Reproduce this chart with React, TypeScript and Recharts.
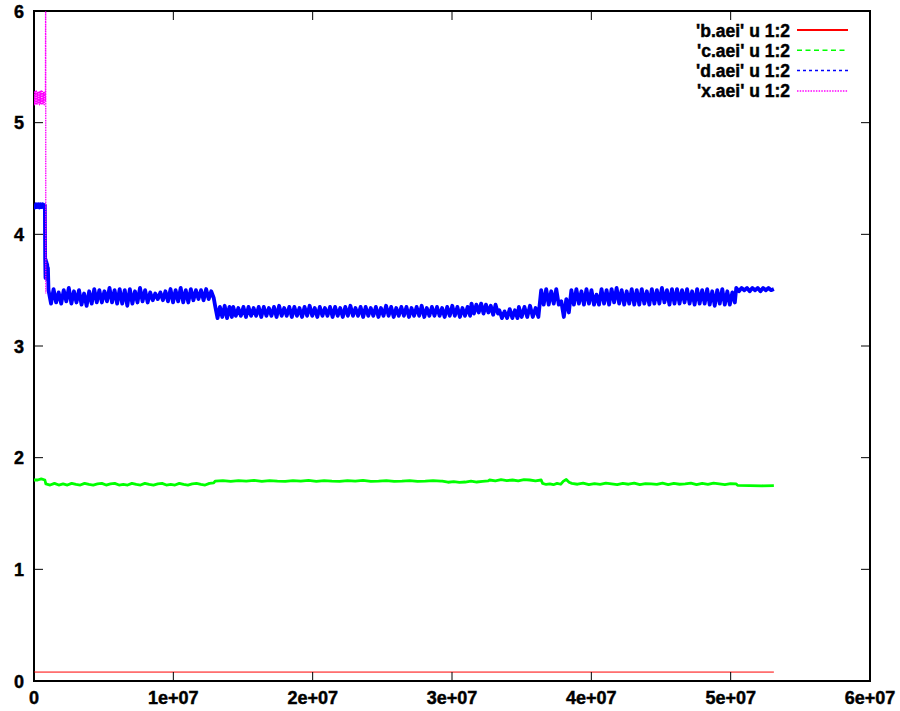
import { LineChart, Line, XAxis, YAxis, ReferenceArea, Legend } from "recharts";

// gnuplot-style plot of four .aei files (column 1 vs column 2)

type Seg = [number, number, number[]];

const X_TICKS = [0, 1e7, 2e7, 3e7, 4e7, 5e7, 6e7];
const X_TICK_LABELS = ["0", "1e+07", "2e+07", "3e+07", "4e+07", "5e+07", "6e+07"];
const Y_TICKS = [0, 1, 2, 3, 4, 5, 6];
const Y_TICK_LABELS = ["0", "1", "2", "3", "4", "5", "6"];

const SERIES_NAMES = ["'b.aei' u 1:2", "'c.aei' u 1:2", "'d.aei' u 1:2", "'x.aei' u 1:2"];
const SERIES_COLORS = ["#ff0000", "#00ff00", "#0000ff", "#ff00ff"];
const LEGEND_DASHES = ["", "5 3.5", "3 3", "1.5 1.2"];

// b.aei: flat near zero
const B_SEGS: Seg[] = [[0, 5.31e7, [0.08, 0.08]]];

// c.aei
const C_SEGS: Seg[] = [
  [0, 0.078e7, [1.8, 1.8, 1.81, 1.8]],
  [0.085e7, 1.29e7, [1.765, 1.755, 1.77, 1.755, 1.765, 1.755, 1.77, 1.76, 1.755, 1.77, 1.76, 1.755, 1.765, 1.77, 1.755, 1.765, 1.77, 1.755, 1.76, 1.755, 1.77, 1.76, 1.755, 1.77, 1.76, 1.755, 1.765, 1.77, 1.755, 1.76, 1.755, 1.77, 1.76, 1.755, 1.765, 1.77, 1.76, 1.755, 1.77, 1.775]],
  [1.3e7, 2.92e7, [1.79, 1.795, 1.788, 1.795, 1.79, 1.796, 1.788, 1.795, 1.79, 1.788, 1.795, 1.79, 1.796, 1.788, 1.795, 1.79, 1.788, 1.795, 1.79, 1.796, 1.788, 1.79, 1.795, 1.788, 1.79, 1.795, 1.788, 1.79, 1.795, 1.79]],
  [2.93e7, 3.26e7, [1.79, 1.78, 1.785, 1.778, 1.782, 1.79, 1.782, 1.788, 1.792]],
  [3.27e7, 3.64e7, [1.8, 1.792, 1.803, 1.795, 1.8, 1.792, 1.803, 1.8, 1.793, 1.8]],
  [3.65e7, 3.78e7, [1.77, 1.76, 1.765, 1.758, 1.77, 1.762]],
  [3.8e7, 3.84e7, [1.79, 1.805, 1.78]],
  [3.86e7, 5.04e7, [1.77, 1.762, 1.772, 1.758, 1.768, 1.76, 1.772, 1.765, 1.758, 1.77, 1.762, 1.772, 1.758, 1.768, 1.765, 1.76, 1.772, 1.758, 1.77, 1.762, 1.765, 1.772, 1.758, 1.77, 1.76, 1.772, 1.765, 1.758, 1.768, 1.765]],
  [5.05e7, 5.31e7, [1.752, 1.75, 1.748, 1.75]],
];

// d.aei: noisy band, sampled high/low
const D_SEGS: Seg[] = [
  [0, 0.078e7, [4.27, 4.24, 4.27, 4.245, 4.27, 4.24, 4.27, 4.245, 4.27, 4.24, 4.26]],
  [0.08e7, 0.1e7, [3.78, 3.61, 3.77, 3.62, 3.75, 3.6, 3.73, 3.61, 3.7]],
  [0.104e7, 1.29e7, [
    3.5, 3.38, 3.51, 3.39, 3.48, 3.38, 3.5, 3.4, 3.52, 3.38,
    3.49, 3.39, 3.5, 3.37, 3.47, 3.36, 3.49, 3.38, 3.51, 3.39,
    3.5, 3.39, 3.49, 3.4, 3.52, 3.39, 3.5, 3.38, 3.51, 3.38,
    3.5, 3.36, 3.51, 3.38, 3.49, 3.39, 3.52, 3.4, 3.5, 3.39,
    3.48, 3.41, 3.47, 3.42, 3.48, 3.41, 3.49, 3.4, 3.51, 3.39,
    3.5, 3.4, 3.52, 3.39, 3.5, 3.39, 3.51, 3.41, 3.5, 3.42,
    3.5, 3.41, 3.51, 3.42, 3.49, 3.43,
  ]],
  [1.3e7, 1.42e7, [3.36, 3.25, 3.35, 3.26, 3.36, 3.25, 3.35, 3.26]],
  [1.43e7, 3.13e7, [
    3.35, 3.27, 3.34, 3.27, 3.35, 3.26, 3.35, 3.27, 3.34, 3.27,
    3.35, 3.26, 3.35, 3.27, 3.34, 3.27, 3.35, 3.26, 3.36, 3.27,
    3.34, 3.27, 3.35, 3.26, 3.35, 3.27, 3.34, 3.26, 3.35, 3.27,
    3.36, 3.27, 3.34, 3.26, 3.35, 3.27, 3.34, 3.27, 3.35, 3.26,
    3.35, 3.27, 3.34, 3.26, 3.35, 3.27, 3.36, 3.27, 3.34, 3.27,
    3.35, 3.26, 3.35, 3.27, 3.34, 3.27, 3.35, 3.26, 3.34, 3.27,
    3.36, 3.27, 3.35, 3.26, 3.34, 3.27, 3.35, 3.27, 3.35, 3.26,
    3.34, 3.27, 3.35, 3.27, 3.36, 3.26, 3.34, 3.27, 3.35, 3.27,
    3.35, 3.27, 3.34, 3.26, 3.35, 3.27, 3.36, 3.27, 3.35, 3.26,
    3.34, 3.27, 3.35, 3.27,
  ]],
  [3.14e7, 3.33e7, [3.38, 3.29, 3.37, 3.3, 3.38, 3.29, 3.37, 3.3, 3.36, 3.28, 3.37, 3.29]],
  [3.34e7, 3.47e7, [3.32, 3.25, 3.31, 3.25, 3.33, 3.25, 3.32, 3.25]],
  [3.48e7, 3.62e7, [3.35, 3.26, 3.35, 3.26, 3.36, 3.26, 3.34, 3.26]],
  [3.64e7, 5.03e7, [
    3.5, 3.37, 3.51, 3.37, 3.49, 3.38, 3.51, 3.37, 3.4, 3.26,
    3.42, 3.3, 3.5, 3.37, 3.51, 3.38, 3.49, 3.37, 3.51, 3.38,
    3.5, 3.37, 3.46, 3.37, 3.51, 3.38, 3.5, 3.37, 3.51, 3.39,
    3.52, 3.38, 3.5, 3.37, 3.49, 3.38, 3.51, 3.37, 3.5, 3.37,
    3.51, 3.38, 3.49, 3.37, 3.51, 3.38, 3.5, 3.38, 3.52, 3.39,
    3.5, 3.37, 3.51, 3.38, 3.51, 3.38, 3.5, 3.39, 3.51, 3.38,
    3.49, 3.37, 3.51, 3.38, 3.5, 3.38, 3.51, 3.37, 3.49, 3.36,
    3.5, 3.38, 3.51, 3.37, 3.49, 3.37, 3.48, 3.39,
  ]],
  [5.04e7, 5.31e7, [3.52, 3.49, 3.52, 3.5, 3.52, 3.49, 3.52, 3.5, 3.52, 3.49, 3.52, 3.5, 3.52, 3.5, 3.51]],
];

// x.aei: short block at the start, then a spike off the top
const X_SEGS: Seg[] = [
  [0, 0.082e7, [5.28, 5.16, 5.28, 5.17, 5.29, 5.16, 5.27, 5.17, 5.28, 5.16, 5.28, 5.17, 5.29, 5.16, 5.28, 5.17, 5.27, 5.16, 5.28, 5.2]],
  [0.084e7, 0.0845e7, [6.6, 3.47]],
];

const toPoints = (segs: Seg[]) =>
  segs.flatMap(([x0, x1, ys]) =>
    ys.map((y, i) => ({ x: ys.length > 1 ? x0 + ((x1 - x0) * i) / (ys.length - 1) : x0, y }))
  );

const SERIES_DATA = [toPoints(B_SEGS), toPoints(C_SEGS), toPoints(D_SEGS), toPoints(X_SEGS)];
const SERIES_WIDTHS = [1, 2.8, 3.8, 1.3];
const SERIES_DASHES = ["", "", "", "1.6 0.8"];

const W = 900;
const H = 711;
const PLOT_TOP = 11;
const PLOT_BOTTOM = 681;
const PLOT_LEFT = 34;
const PLOT_RIGHT = 870;
const TICK = 9;
const FONT = "'Liberation Sans', Arial, Helvetica, sans-serif";

const textStyle = {
  fontFamily: FONT,
  fontWeight: 700,
  fontSize: 18,
  fill: "#000",
  stroke: "#000",
  strokeWidth: 0.45,
};

// eslint-disable-next-line @typescript-eslint/no-explicit-any
const XTick = (props: any) => {
  const { x, payload } = props;
  const label = X_TICK_LABELS[X_TICKS.indexOf(payload.value)];
  return (
    <g>
      <line x1={x} x2={x} y1={PLOT_BOTTOM} y2={PLOT_BOTTOM - TICK} stroke="#000" />
      <line x1={x} x2={x} y1={PLOT_TOP} y2={PLOT_TOP + TICK} stroke="#000" />
      <text x={x} y={704} textAnchor="middle" style={textStyle}>
        {label}
      </text>
    </g>
  );
};

// eslint-disable-next-line @typescript-eslint/no-explicit-any
const YTick = (props: any) => {
  const { y, payload } = props;
  const label = Y_TICK_LABELS[Y_TICKS.indexOf(payload.value)];
  return (
    <g>
      <line x1={PLOT_LEFT} x2={PLOT_LEFT + TICK} y1={y} y2={y} stroke="#000" />
      <line x1={PLOT_RIGHT} x2={PLOT_RIGHT - TICK} y1={y} y2={y} stroke="#000" />
      <text x={24} y={y} dy={6.5} textAnchor="end" style={textStyle}>
        {label}
      </text>
    </g>
  );
};

const KeyBox = () => (
  <svg width={W} height={110} style={{ display: "block" }}>
    {SERIES_NAMES.map((name, i) => {
      const y = 30 + i * 20.3;
      return (
        <g key={name}>
          <text x={790} y={y} dy={6.5} textAnchor="end" style={{ ...textStyle, fontSize: 17.5 }}>
            {name}
          </text>
          <line
            x1={797}
            x2={848}
            y1={y}
            y2={y}
            stroke={SERIES_COLORS[i]}
            strokeWidth={i === 0 ? 2 : 1.5}
            strokeDasharray={LEGEND_DASHES[i] || undefined}
          />
        </g>
      );
    })}
  </svg>
);

export default function App() {
  return (
    <div style={{ position: "absolute", left: 0, top: 0, width: W, height: H, background: "#fff" }}>
      <LineChart width={W} height={H} margin={{ top: PLOT_TOP, right: W - PLOT_RIGHT, bottom: 0, left: 0 }}>
        <XAxis
          type="number"
          dataKey="x"
          domain={[0, 6e7]}
          ticks={X_TICKS}
          allowDataOverflow
          axisLine={false}
          tickLine={false}
          tickSize={0}
          tickMargin={8}
          height={H - PLOT_BOTTOM}
          tick={XTick}
          interval={0}
        />
        <YAxis
          type="number"
          dataKey="y"
          domain={[0, 6]}
          ticks={Y_TICKS}
          allowDataOverflow
          axisLine={false}
          tickLine={false}
          tickSize={0}
          tickMargin={10}
          width={PLOT_LEFT}
          tick={YTick}
          interval={0}
        />
        <Legend
          layout="horizontal"
          verticalAlign="middle"
          align="center"
          wrapperStyle={{ left: 0, top: 0, width: W }}
          content={() => <KeyBox />}
        />
        {SERIES_NAMES.map((name, i) => (
          <Line
            key={name}
            name={name}
            data={SERIES_DATA[i]}
            dataKey="y"
            type="linear"
            stroke={SERIES_COLORS[i]}
            strokeWidth={SERIES_WIDTHS[i]}
            strokeDasharray={SERIES_DASHES[i] || undefined}
            strokeLinejoin="round"
            dot={false}
            activeDot={false}
            isAnimationActive={false}
          />
        ))}
        <ReferenceArea x1={0} x2={6e7} y1={0} y2={6} fill="none" stroke="#000" strokeWidth={2} ifOverflow="visible" />
      </LineChart>
    </div>
  );
}
